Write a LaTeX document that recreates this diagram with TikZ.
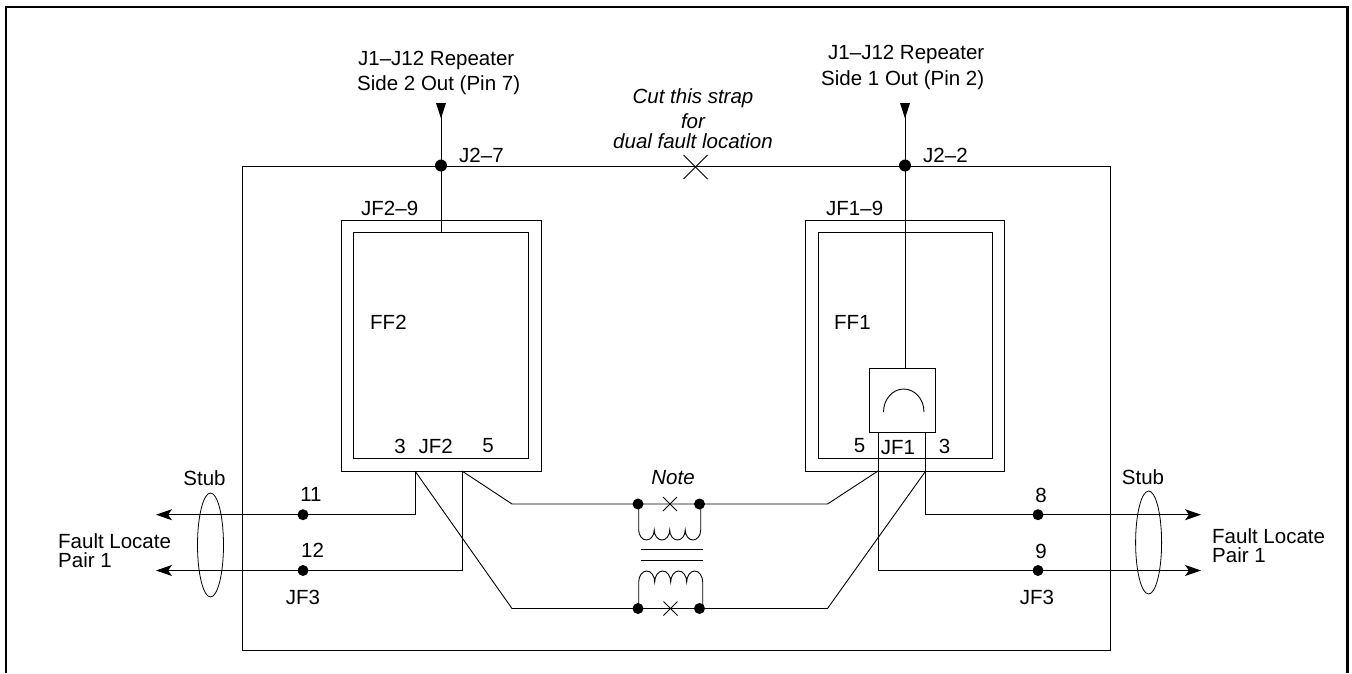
\documentclass[tikz,border=0pt]{standalone}
\usepackage{fontspec}
\setmainfont{Liberation Sans}
\usetikzlibrary{arrows.meta,calc}
\tikzset{
  x=1pt,y=-1pt,
  wire/.style={line width=0.9pt,line join=miter},
  frame/.style={line width=2.6pt},
  dot/.style={circle,fill=black,draw=none,inner sep=0pt,minimum size=11pt},
  lab/.style={inner sep=0pt,font=\fontsize{20.5}{24}\selectfont},
  labl/.style={lab,anchor=west},
  note/.style={lab,font=\fontsize{20.5}{24}\selectfont\itshape},
  tip/.style={-{Stealth[length=16pt,width=11pt,inset=4pt]}},
  crossmark/.style={line width=0.8pt},
}
\begin{document}
\begin{tikzpicture}
\useasboundingbox (0,0) rectangle (1352,673);
\draw[frame] (6,673) -- (6,7) -- (1347.7,7) -- (1347.7,673);
% boxes
\draw[wire] (242,166) rectangle (1110,650);
\node[dot,minimum size=12pt] (j7) at (441,165.5) {};
\node[dot,minimum size=12pt] (j2) at (905,165.5) {};
\draw[wire] (341,220) rectangle (541,471);
\draw[wire] (353,232.5) rectangle (528,458);
\draw[wire] (805,220) rectangle (1004,471);
\draw[wire] (818,232.5) rectangle (992,458);
\node[draw,line width=0.9pt,inner sep=0pt,minimum width=66pt,minimum height=64pt] (k) at (902.5,400) {};
\draw[wire] (883.5,412) arc[start angle=180,end angle=360,x radius=20.25,y radius=23];
% coordinates
\coordinate (t7) at (441,103);
\coordinate (t2) at (905,103);
\coordinate (f2) at (441,232.5);
\coordinate (l3) at (415,471);
\coordinate (l5) at (462,471);
\coordinate (r5) at (878,471);
\coordinate (r3) at (925.7,471);
\coordinate (ktop) at (905,368);
\coordinate (lu) at (512,504);
\coordinate (ll) at (512,608.5);
\coordinate (ru) at (827.5,504);
\coordinate (rl) at (827.5,608.5);
\coordinate (kb5) at (878,432);
\coordinate (kb3) at (925.7,432);
\coordinate (lt1) at (156,514.7);
\coordinate (lt2) at (156,570.5);
\coordinate (rt1) at (1201,514.7);
\coordinate (rt2) at (1201,570.5);
% dots
\node[dot] (d11) at (303,514.7) {};
\node[dot] (d12) at (303,570.5) {};
\node[dot] (d8) at (1038,514.7) {};
\node[dot] (d9) at (1038,570.5) {};
\node[dot] (n1) at (638,504) {};
\node[dot] (n2) at (699.5,504) {};
\node[dot] (n3) at (638,608.5) {};
\node[dot] (n4) at (699.5,608.5) {};
% top wires
\draw[wire] (t7) -- (f2);
\draw[wire] (t2) -- (ktop);
\fill (436,103) -- (446,103) -- (441,118.5) -- cycle;
\fill (900,103) -- (910,103) -- (905,118.5) -- cycle;
% strap x
\coordinate (xc) at (695.5,167);
\draw[crossmark] ($(xc)+(-12,-12)$) -- ($(xc)+(12,12)$);
\draw[crossmark] ($(xc)+(-12,12)$) -- ($(xc)+(12,-12)$);
% side wires
\draw[wire,tip] (l3) |- (d11.center) -- (lt1);
\draw[wire,tip] (l5) |- (d12.center) -- (lt2);
\draw[wire,tip] (kb3) |- (d8.center) -- (rt1);
\draw[wire,tip] (kb5) |- (d9.center) -- (rt2);
% diagonals
\draw[wire] (l5) -- (lu) -- (n1.center) -- (n2.center) -- (ru) -- (r5);
\draw[wire] (l3) -- (ll) -- (n3.center) -- (n4.center) -- (rl) -- (r3);
% x marks
\coordinate (x1) at (670,504);
\coordinate (x2) at (670.5,608.5);
\foreach \c in {x1,x2}{
  \draw[crossmark] ($(\c)+(-7,-7)$) -- ($(\c)+(7,7)$);
  \draw[crossmark] ($(\c)+(-7,7)$) -- ($(\c)+(7,-7)$);
}
% coils
\draw[wire] (638.7,504) -- (638.7,530)
  arc[start angle=180,end angle=0,x radius=7.75,y radius=10]
  arc[start angle=180,end angle=0,x radius=7.75,y radius=10]
  arc[start angle=180,end angle=0,x radius=7.75,y radius=10]
  arc[start angle=180,end angle=0,x radius=7.75,y radius=10] -- (700.7,504);
\draw[wire] (638.7,608.5) -- (638.7,582)
  arc[start angle=180,end angle=360,x radius=8,y radius=11]
  arc[start angle=180,end angle=360,x radius=8,y radius=11]
  arc[start angle=180,end angle=360,x radius=8,y radius=11]
  arc[start angle=180,end angle=360,x radius=8,y radius=11] -- (702.7,608.5) -- (n4.center);
\draw[wire] (640.7,549.7) -- (702.7,549.7);
\draw[wire] (640.7,560) -- (702.7,560);
% stubs
\draw[line width=0.8pt] (210.5,545) ellipse[x radius=13,y radius=52];
\draw[line width=0.8pt] (1148.6,542.5) ellipse[x radius=13,y radius=51.5];
% labels
\node[labl] (tl1) at (358,60) {J1–J12 Repeater};
\node[labl] (tl2) at (357,85) {Side 2 Out (Pin 7)};
\node[labl] (tr1) at (828,54) {J1–J12 Repeater};
\node[labl] (tr2) at (821,80) {Side 1 Out (Pin 2)};
\node[note] (c1) at (693,98) {Cut this strap};
\node[note] (c2) at (693,121) {for};
\node[note] (c3) at (693,141) {dual fault location};
\node[labl] (j27) at (459,155) {J2–7};
\node[labl] (j22) at (923,155) {J2–2};
\node[labl] (jf29) at (361,208) {JF2–9};
\node[labl] (jf19) at (826,208) {JF1–9};
\node[labl] (ff2) at (370,322.5) {FF2};
\node[labl] (ff1) at (834,322.5) {FF1};
\node[lab] (p3) at (400,446) {3};
\node[lab] (jf2) at (435.6,446) {JF2};
\node[lab] (p5) at (488,446) {5};
\node[lab] (q5) at (859.5,446) {5};
\node[lab] (jf1) at (898,448) {JF1};
\node[lab] (q3) at (944.5,446) {3};
\node[note] (nt) at (673,478) {Note};
\node[lab] (s1) at (204.5,478) {Stub};
\node[lab] (s2) at (1143,477) {Stub};
\node[lab] (n11) at (311,494) {11};
\node[lab] (n12) at (312.5,550) {12};
\node[lab] (n8) at (1041,495) {8};
\node[lab] (n9) at (1041,551) {9};
\node[lab] (jl) at (303,597) {JF3};
\node[lab] (jr) at (1037,597) {JF3};
\node[labl] (fl1) at (58,541) {Fault Locate};
\node[labl] (fl2) at (58,560.5) {Pair 1};
\node[labl] (fr1) at (1212,536) {Fault Locate};
\node[labl] (fr2) at (1212,555) {Pair 1};
\end{tikzpicture}
\end{document}
